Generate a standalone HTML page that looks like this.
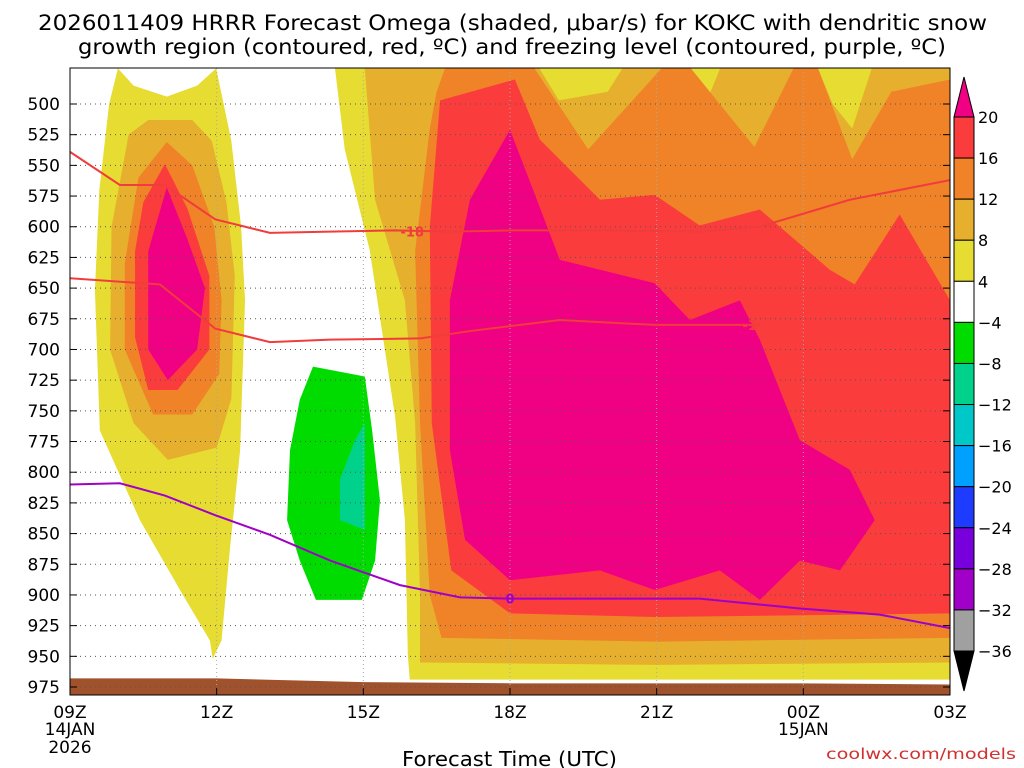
<!DOCTYPE html>
<html><head><meta charset="utf-8"><style>
html,body{margin:0;padding:0;background:#fff;width:1024px;height:768px;overflow:hidden}
svg text{font-family:"DejaVu Sans","Liberation Sans",sans-serif;fill:#000}
</style></head><body>
<svg id="chart" width="1024" height="768" viewBox="0 0 1024 768" xmlns="http://www.w3.org/2000/svg">
<text x="38" y="30" font-size="21" textLength="949" lengthAdjust="spacingAndGlyphs">2026011409 HRRR Forecast Omega (shaded, μbar/s) for KOKC with dendritic snow</text>
<text x="78" y="54" font-size="21" textLength="868" lengthAdjust="spacingAndGlyphs">growth region (contoured, red, ºC) and freezing level (contoured, purple, ºC)</text>
<g id="plot"></g>
<g id="axes"></g>
<g id="cbar"></g>
<text x="402" y="766" font-size="20" textLength="215" lengthAdjust="spacingAndGlyphs">Forecast Time (UTC)</text>
<text x="826" y="759" font-size="15" textLength="190" lengthAdjust="spacingAndGlyphs" style="fill:#d03030">coolwx.com/models</text>
</svg>
<script>
// ---- data (hours after 09Z, pressure hPa) ----
const pressureTicks=[500,525,550,575,600,625,650,675,700,725,750,775,800,825,850,875,900,925,950,975];
const timeHours=[0,3,6,9,12,15,18];
const timeLabels=["09Z","12Z","15Z","18Z","21Z","00Z","03Z"];
const cbarLevels=[20,16,12,8,4,-4,-8,-12,-16,-20,-24,-28,-32,-36];
const cbarColors=["#fa3c3c","#f08228","#e6af2d","#e6dc32","#ffffff","#00dc00","#00d28c","#00c8c8","#00a0ff","#1e3cff","#7800dc","#a000c8","#a0a0a0"];
const fills=[
 {name:"left-yellow",c:"#e6dc32",pts:[[0.98,471],[1.3,485],[1.98,494],[2.6,485],[2.99,471],[3.3,530],[3.5,600],[3.58,660],[3.48,782],[3.27,863],[3.1,937],[2.92,952],[2.86,937],[2.25,896],[1.43,839],[0.61,766],[0.51,652],[0.6,570],[0.8,500]]},
 {name:"left-gold",c:"#e6af2d",pts:[[0.85,600],[1.2,525],[1.6,513],[2.5,513],[2.9,530],[3.2,580],[3.37,640],[3.3,740],[3.0,780],[2.0,790],[1.3,760],[0.82,700]]},
 {name:"left-orange",c:"#f08228",pts:[[1.98,531],[2.5,550],[2.95,600],[3.1,660],[3.05,720],[2.5,753],[1.7,753],[1.12,700],[1.12,630],[1.4,560]]},
 {name:"left-red",c:"#fa3c3c",pts:[[1.94,549],[2.4,585],[2.85,640],[2.85,700],[2.2,733],[1.6,733],[1.33,690],[1.33,620],[1.5,580]]},
 {name:"left-magenta",c:"#f00082",pts:[[1.98,568],[2.4,610],[2.76,650],[2.6,700],[2.0,725],[1.6,700],[1.6,620]]},
 {name:"right-yellow",c:"#e6dc32",pts:[[5.42,471],[18,471],[18,969],[6.95,969],[6.91,949],[6.85,839],[6.65,755],[6.13,619],[5.62,537]]},
 {name:"right-gold",c:"#e6af2d",pts:[[6.03,471],[18,471],[18,955],[12,957],[7.16,955],[7.16,900],[7.06,760],[6.85,660],[6.24,578]]},
 {name:"top-yellow-a",c:"#e6dc32",pts:[[9.6,471],[11.3,471],[11,490],[10,497]]},
 {name:"top-yellow-b",c:"#e6dc32",pts:[[12.6,471],[13.3,471],[13,500]]},
 {name:"top-yellow-c",c:"#e6dc32",pts:[[15.3,471],[16.4,471],[16,520],[15.6,500]]},
 {name:"right-orange",c:"#f08228",pts:[[7.67,471],[9.5,471],[10.6,537],[12.1,471],[12.7,471],[14.0,535],[14.8,471],[15.3,471],[16.0,545],[16.8,490],[18,480],[18,935],[12,938],[7.6,935],[7.36,900],[7.16,760],[7.06,620],[7.36,520],[7.5,490]]},
 {name:"right-red",c:"#fa3c3c",pts:[[7.57,497],[9.1,480],[9.61,529],[10.84,578],[11.96,574],[12.88,599],[14.11,586],[15.54,635],[16.05,647],[16.97,590],[18,660],[18,915],[12,918],[9,915],[7.8,880],[7.4,760],[7.36,600]]},
 {name:"right-magenta",c:"#f00082",pts:[[7.77,660],[8.18,578],[9.0,521],[10.02,627],[11.96,646],[12.68,676],[13.7,660],[14.11,692],[14.93,774],[15.95,798],[16.46,839],[15.75,880],[14.93,872],[14.11,904],[13.29,880],[11.96,896],[10.84,880],[9.0,888],[8.08,855],[7.77,782]]},
 {name:"descent-green",c:"#00dc00",pts:[[4.97,714],[6.03,722],[6.18,766],[6.34,823],[6.24,872],[5.97,904],[5.03,904],[4.7,872],[4.44,839],[4.5,782],[4.7,741]]},
 {name:"descent-teal",c:"#00d28c",pts:[[5.83,774],[6.03,760],[6.03,847],[5.52,839],[5.52,806]]}
];
const ground=[[0,968],[3,968],[6,971],[9,972],[12,972],[15,972],[18,973],[18,982],[0,982]];
const lineHours18=[0,1.02,1.94,2.97,4.09,5.32,6.65,7.77,9.0,10.84,12.88,14.11,15.95,18];
const linePres18=[539,566,566,594,605,604,603,604,603,603,604,600,578,562];
const lineHours12=[0,1.84,2.97,4.09,5.32,7.16,8.18,10.02,11.96,14.11];
const linePres12=[642,647,683,694,692,691,685,676,680,680];
const lineHours0=[0,1.02,1.94,2.97,4.09,5.32,6.75,7.98,9.0,10.84,12.88,14.93,16.56,18];
const linePres0=[810,809,819,835,851,872,892,902,903,903,903,911,916,927];

// ---- axes ----
const X0=70,X1=950,T0=68,B0=695;
const xs=h=>X0+h*(X1-X0)/18;
const ys=p=>104+(p-500)*(687-104)/475;
const NS="http://www.w3.org/2000/svg";
function mk(tag,parent,attrs){const e=document.createElementNS(NS,tag);for(const k in attrs)e.setAttribute(k,attrs[k]);parent.appendChild(e);return e;}
const plot=document.getElementById('plot'),axes=document.getElementById('axes'),cb=document.getElementById('cbar');
const clip=mk('clipPath',plot,{id:'pc'});mk('rect',clip,{x:X0,y:T0,width:X1-X0,height:B0-T0});
const g=mk('g',plot,{'clip-path':'url(#pc)'});
fills.forEach(f=>{
 const p=mk('polygon',g,{points:f.pts.map(q=>xs(q[0])+','+ys(q[1])).join(' '),fill:f.c});
 
 
});
const gr=mk('polygon',g,{points:ground.map(q=>xs(q[0])+','+ys(q[1])).join(' '),fill:'#a0522d'});


timeHours.forEach((h,i)=>{if(i>0&&i<timeHours.length-1){const l=mk('line',g,{x1:xs(h),x2:xs(h),y1:T0,y2:B0,stroke:'#aaa','stroke-dasharray':'1,3'});
 
 }});
pressureTicks.forEach(p=>{const l=mk('line',g,{x1:X0,x2:X1,y1:ys(p),y2:ys(p),stroke:'#555','stroke-dasharray':'1,4'});
 
 });
function drawLine(hs,ps,color,name){
 const l=mk('polyline',g,{points:hs.map((h,i)=>xs(h)+','+ys(ps[i])).join(' '),fill:'none',stroke:color,'stroke-width':2});
 
 
}
drawLine(lineHours18,linePres18,'#f03c3c','contour-minus18');
drawLine(lineHours12,linePres12,'#f03c3c','contour-minus12');
drawLine(lineHours0,linePres0,'#a000c8','freezing-level-line');
function lab(t,h,p,c,n){const e=mk('text',g,{x:xs(h),y:ys(p)+5,'font-size':13,'font-weight':'bold','text-anchor':'middle',style:'fill:'+c});e.textContent=t;
 
 }
lab('-18',7.0,604,'#f03c3c','label-minus18');
lab('-1',13.9,680,'#f03c3c','label-minus12');
lab('0',9.0,903,'#a000c8','label-zero');
mk('rect',axes,{x:X0,y:T0,width:X1-X0,height:B0-T0,fill:'none',stroke:'#000','stroke-width':1});
pressureTicks.forEach(p=>{
 mk('line',axes,{x1:X0,x2:X0+7,y1:ys(p),y2:ys(p),stroke:'#000'});
 mk('line',axes,{x1:X1-7,x2:X1,y1:ys(p),y2:ys(p),stroke:'#000'});
 const t=mk('text',axes,{x:60,y:ys(p)+6,'font-size':17,'text-anchor':'end'});t.textContent=p;
 
 
});
timeHours.forEach((h,i)=>{
 mk('line',axes,{x1:xs(h),x2:xs(h),y1:B0,y2:B0-7,stroke:'#000'});
 const t=mk('text',axes,{x:xs(h),y:718,'font-size':17,'text-anchor':'middle'});t.textContent=timeLabels[i];
 
 
});
[['14JAN',xs(0),735],['2026',xs(0),753],['15JAN',xs(15),735]].forEach(d=>{const t=mk('text',axes,{x:d[1],y:d[2],'font-size':17,'text-anchor':'middle'});t.textContent=d[0];
 
 });
const CX=954,CW=20,cy=i=>117+i*(651-117)/13;
mk('polygon',cb,{points:`${CX},${cy(0)} ${CX+CW/2},77 ${CX+CW},${cy(0)}`,fill:'#f00082',stroke:'#000'});
cbarColors.forEach((c,i)=>{const r=mk('rect',cb,{x:CX,y:cy(i),width:CW,height:cy(i+1)-cy(i),fill:c,stroke:'#000'});
 
 });
mk('polygon',cb,{points:`${CX},${cy(13)} ${CX+CW/2},691 ${CX+CW},${cy(13)}`,fill:'#000',stroke:'#000'});
cbarLevels.forEach((v,i)=>{const t=mk('text',cb,{x:978,y:cy(i)+6,'font-size':16});t.textContent=v<0?'\u2212'+(-v):v;
 
 });
</script>
</body></html>
